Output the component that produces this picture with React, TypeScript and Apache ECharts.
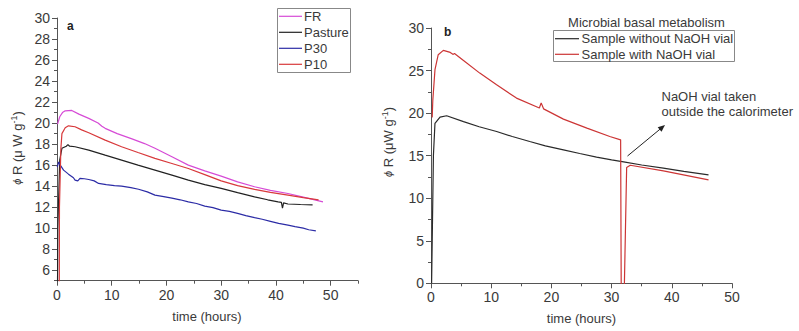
import React, { useEffect, useRef } from "react";
import * as echarts from "echarts";

// ---------- Panel a data (time in hours, phi R in µW g-1) ----------
const frTime = [0.1, 0.5, 1, 1.5, 2.7, 4, 5.8, 7.5, 8.2, 8.8, 11, 13.7, 16, 17.9, 21, 24, 27, 30, 33, 36.1, 39, 42.2, 45, 48.6];
const frValue = [19.9, 20.6, 21.0, 21.17, 21.2, 20.85, 20.45, 20.0, 19.7, 19.5, 19.0, 18.5, 18.05, 17.6, 16.8, 16.0, 15.45, 14.95, 14.4, 13.94, 13.6, 13.3, 12.95, 12.5];

const pastureTime = [0.05, 0.15, 0.5, 0.9, 1.7, 2.0, 2.3, 3.3, 5.8, 8.8, 11.8, 14.8, 17.9, 21, 24, 27, 30, 33, 36.1, 38.5, 40.4, 41.0, 41.2, 41.4, 42.2, 44.5, 46.7];
const pastureValue = [0, 10, 16.5, 17.6, 17.8, 17.95, 17.8, 17.75, 17.43, 16.95, 16.48, 16.0, 15.52, 15.05, 14.57, 14.15, 13.78, 13.38, 12.98, 12.7, 12.5, 12.45, 11.9, 12.4, 12.3, 12.25, 12.22];

const p30Time = [0.05, 0.3, 0.6, 1.2, 2.1, 3.0, 3.3, 3.8, 4.2, 5.0, 5.8, 6.8, 7.6, 9, 10.5, 11.8, 13.5, 14.9, 16.5, 17.9, 19.5, 21, 22.5, 24, 25.5, 27, 28.5, 30, 31.5, 33, 34.5, 36.1, 37.5, 39, 40.5, 42.2, 43.5, 45, 46, 47.3];
const p30Value = [15.8, 16.3, 16.0, 15.52, 15.14, 14.8, 14.57, 14.5, 14.73, 14.7, 14.63, 14.5, 14.26, 14.15, 14.05, 14.0, 13.85, 13.7, 13.45, 13.14, 13.0, 12.85, 12.7, 12.5, 12.35, 12.1, 11.95, 11.71, 11.6, 11.4, 11.2, 11.0, 10.85, 10.65, 10.45, 10.29, 10.15, 10.0, 9.85, 9.75];

const p10Time = [0.4, 0.45, 0.7, 0.9, 1.5, 2.1, 3.3, 4.5, 5.8, 8.8, 11.8, 14.8, 17.9, 21, 24, 27, 30, 33, 36.1, 39, 42.2, 45, 47.8];
const p10Value = [0, 12, 17.5, 19.0, 19.55, 19.74, 19.65, 19.35, 19.08, 18.38, 17.75, 17.2, 16.64, 16.15, 15.68, 15.1, 14.5, 14.05, 13.69, 13.4, 13.14, 12.9, 12.7];

// ---------- Panel b data ----------
const withoutTime = [0.1, 0.4, 0.66, 1.5, 2.6, 5.4, 8, 10.9, 13.5, 16.4, 19, 22, 24.7, 27.5, 30, 32, 35, 38.6, 42, 46.1];
const withoutValue = [0, 15, 18.8, 19.53, 19.69, 19.0, 18.4, 17.84, 17.25, 16.66, 16.15, 15.68, 15.25, 14.82, 14.5, 14.27, 13.9, 13.53, 13.15, 12.74];

const withTime = [0.2, 0.3, 0.66, 1.2, 2.05, 3.2, 3.7, 3.9, 5.4, 8.1, 10.9, 14.2, 18.0, 18.3, 18.7, 22, 25.9, 29.7, 31.5, 31.6, 32.1, 32.5, 33.1, 38.6, 46.1];
const withValue = [19.5, 21.5, 25.1, 26.86, 27.37, 27.13, 26.9, 27.0, 26.19, 24.7, 23.33, 21.76, 20.6, 21.2, 20.5, 19.29, 18.24, 17.25, 16.86, -1, -1, 13.6, 13.87, 13.21, 12.15];

// ---------- Tick labels ----------
const aYLabels = [6, 8, 10, 12, 14, 16, 18, 20, 22, 24, 26, 28, 30];
const aYMinor = [5, 7, 9, 11, 13, 15, 17, 19, 21, 23, 25, 27, 29];
const aXLabels = [0, 10, 20, 30, 40, 50];
const aXMinor = [5, 15, 25, 35, 45, 55];

const legendA = ["FR", "Pasture", "P30", "P10"];
const colorsA = ["#d64bd6", "#222222", "#2c2ca6", "#d8393b"];
const legendB = ["Sample without NaOH vial", "Sample with NaOH vial"];
const colorsB = ["#2a2a2a", "#cc3535"];

const zip = (t: number[], v: number[]) => t.map((x, i) => [x, v[i]]);

const FONT = "'Liberation Sans', Arial, Helvetica, sans-serif";
const TXT = "#3a3a3a";
const AX = "#555";

function legendGraphics(
  names: string[], colors: string[],
  box: { x: number; y: number; w: number; h: number },
  firstY: number, step: number, lineX1: number, lineX2: number, textX: number
) {
  const els: any[] = [
    { type: "rect", shape: { x: box.x, y: box.y, width: box.w, height: box.h }, style: { fill: "#fff", stroke: "#888", lineWidth: 1 }, z: 10 },
  ];
  names.forEach((n, i) => {
    const y = firstY + i * step;
    els.push({ type: "line", shape: { x1: lineX1, y1: y, x2: lineX2, y2: y }, style: { stroke: colors[i], lineWidth: 1.2 }, z: 11 });
    els.push({ type: "text", x: textX, y, style: { text: n, fontSize: 13, fontFamily: FONT, fill: TXT, align: "left", verticalAlign: "middle" }, z: 11 });
  });
  return els;
}

export default function App() {
  const ref = useRef<HTMLDivElement>(null);
  useEffect(() => {
    if (!ref.current) return;
    const chart = echarts.init(ref.current, undefined, { renderer: "svg" });

    const axisLine = { show: true, lineStyle: { color: AX, width: 1 } };
    const axisLabel = { color: TXT, fontSize: 14, fontFamily: FONT, margin: 7 };

    const yTitleRich = {
      phi: { fontStyle: "italic", fontSize: 11, fontFamily: FONT, fill: TXT, color: TXT, lineHeight: 16 },
      n: { fontSize: 13, fontFamily: FONT, fill: TXT, color: TXT, lineHeight: 16 },
      sup: { fontSize: 9, fontFamily: FONT, fill: TXT, color: TXT, lineHeight: 9, verticalAlign: "top" },
    };

    const lineSeries = (name: string, data: number[][], color: string, xi: number, yi: number) => ({
      name,
      type: "line",
      data,
      xAxisIndex: xi,
      yAxisIndex: yi,
      symbol: "none",
      clip: true,
      lineStyle: { color, width: 1.2 },
      itemStyle: { color },
    });

    const option: any = {
      animation: false,
      backgroundColor: "#fff",
      textStyle: { fontFamily: FONT },
      grid: [
        { left: 57, top: 18, width: 301, height: 262.7 },
        { left: 431, top: 28, width: 301, height: 255.3 },
      ],
      xAxis: [
        {
          type: "value", gridIndex: 0, min: 0, max: 55,
          axisLine, splitLine: { show: false },
          axisTick: { show: true, length: 5, lineStyle: { color: AX }, customValues: aXLabels },
          axisLabel: { ...axisLabel, customValues: aXLabels },
        },
        {
          type: "value", gridIndex: 0, min: 0, max: 55, position: "bottom",
          axisLine: { show: false }, splitLine: { show: false },
          axisTick: { show: true, length: 3, lineStyle: { color: AX }, customValues: aXMinor },
          axisLabel: { show: false },
        },
        {
          type: "value", gridIndex: 1, min: 0, max: 50, interval: 10,
          axisLine, splitLine: { show: false },
          axisTick: { show: true, length: 5, lineStyle: { color: AX } },
          minorTick: { show: true, splitNumber: 2, length: 3, lineStyle: { color: AX } },
          axisLabel,
        },
      ],
      yAxis: [
        {
          type: "value", gridIndex: 0, min: 5, max: 30,
          axisLine, splitLine: { show: false },
          axisTick: { show: true, length: 5, lineStyle: { color: AX }, customValues: aYLabels },
          axisLabel: { ...axisLabel, customValues: aYLabels },
        },
        {
          type: "value", gridIndex: 0, min: 5, max: 30, position: "left",
          axisLine: { show: false }, splitLine: { show: false },
          axisTick: { show: true, length: 3, lineStyle: { color: AX }, customValues: aYMinor },
          axisLabel: { show: false },
        },
        {
          type: "value", gridIndex: 1, min: 0, max: 30, interval: 5,
          axisLine, splitLine: { show: false },
          axisTick: { show: true, length: 5, lineStyle: { color: AX } },
          minorTick: { show: true, splitNumber: 2, length: 3, lineStyle: { color: AX } },
          axisLabel,
        },
      ],
      series: [
        lineSeries(legendA[0], zip(frTime, frValue), colorsA[0], 0, 0),
        lineSeries(legendA[1], zip(pastureTime, pastureValue), colorsA[1], 0, 0),
        lineSeries(legendA[2], zip(p30Time, p30Value), colorsA[2], 0, 0),
        lineSeries(legendA[3], zip(p10Time, p10Value), colorsA[3], 0, 0),
        lineSeries(legendB[0], zip(withoutTime, withoutValue), colorsB[0], 2, 2),
        lineSeries(legendB[1], zip(withTime, withValue), colorsB[1], 2, 2),
      ],
      graphic: [
        ...legendGraphics(legendA, colorsA, { x: 277.5, y: 8.5, w: 73, h: 64 }, 16.3, 16, 279, 302, 304),
        ...legendGraphics(legendB, colorsB, { x: 553.5, y: 30.5, w: 181, h: 31 }, 38.7, 15.6, 555, 579, 581.5),
        { type: "text", left: 67, top: 20, style: { text: "a", fontSize: 12, fontWeight: "bold", fontFamily: FONT, fill: "#222" } },
        { type: "text", left: 444, top: 26, style: { text: "b", fontSize: 12, fontWeight: "bold", fontFamily: FONT, fill: "#222" } },
        {
          type: "text", x: 17, y: 148, rotation: Math.PI / 2,
          style: { text: "{phi|ϕ}{n| R (μ W g}{sup|-1}{n|)}", rich: yTitleRich, align: "center", verticalAlign: "middle" },
        },
        {
          type: "text", x: 388, y: 142, rotation: Math.PI / 2,
          style: { text: "{phi|ϕ}{n| R (μW g}{sup|-1}{n|)}", rich: yTitleRich, align: "center", verticalAlign: "middle" },
        },
        {
          type: "text", x: 207, y: 316,
          style: { text: "time (hours)", fontSize: 13, fontFamily: FONT, fill: TXT, align: "center", verticalAlign: "middle" },
        },
        {
          type: "text", x: 581.5, y: 318,
          style: { text: "time (hours)", fontSize: 13, fontFamily: FONT, fill: TXT, align: "center", verticalAlign: "middle" },
        },
        {
          type: "text", x: 646.5, y: 22.7,
          style: { text: "Microbial basal metabolism", fontSize: 13, fontFamily: FONT, fill: TXT, align: "center", verticalAlign: "middle" },
        },
        {
          type: "text", x: 661.5, y: 96.7,
          style: { text: "NaOH vial taken", fontSize: 13, fontFamily: FONT, fill: TXT, align: "left", verticalAlign: "middle" },
        },
        {
          type: "text", x: 661.5, y: 111.7,
          style: { text: "outside the calorimeter", fontSize: 13, fontFamily: FONT, fill: TXT, align: "left", verticalAlign: "middle" },
        },
        {
          type: "line",
          shape: { x1: 627.5, y1: 156, x2: 660, y2: 129.2 },
          style: { stroke: "#222", lineWidth: 1 },
        },
        {
          type: "polygon",
          shape: { points: [[665, 125], [661.5, 131.8], [657.7, 127.2]] },
          style: { fill: "#222" },
        },
      ],
    };

    chart.setOption(option);
    return () => chart.dispose();
  }, []);

  return (
    <div
      ref={ref}
      style={{ position: "absolute", left: 0, top: 0, width: 799, height: 331, background: "#fff" }}
    />
  );
}
